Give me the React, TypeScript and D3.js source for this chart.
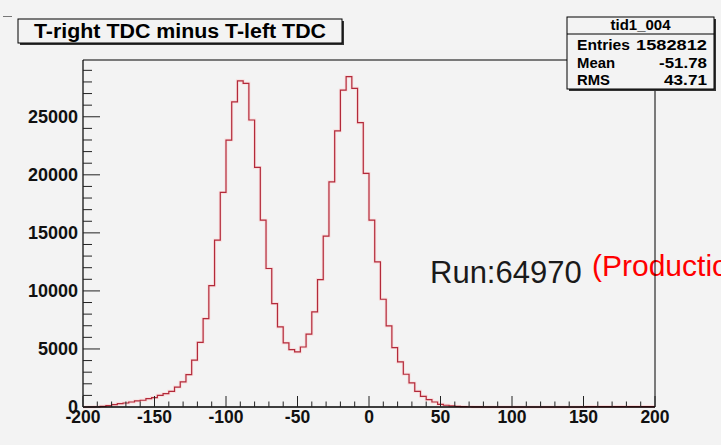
import React from "react";
import * as d3 from "d3";

const binLow = -200;
const binWidth = 4;
const counts: number[] = [
  0, 10, 20, 60, 120, 200, 290, 345, 430, 520,
  580, 720, 810, 1010, 1150, 1350, 1720, 2160, 2790, 4030,
  5560, 7620, 10450, 14370, 18480, 22990, 26290, 28100, 27880, 24720,
  20640, 16090, 11930, 8910, 6900, 5520, 4950, 4740, 5170, 6270,
  8190, 10980, 14720, 19400, 23790, 27300, 28450, 27450, 24490, 20120,
  16090, 12500, 9280, 6980, 5120, 3880, 2820, 2070, 1350, 920,
  640, 430, 230, 150, 90, 50, 30, 20, 10, 10,
  0, 0, 0, 0, 0, 0, 0, 0, 0, 0,
  0, 0, 0, 0, 0, 0, 0, 10, 30, 40,
  40, 40, 40, 40, 40, 40, 40, 40, 40, 40,
];
const xTickValues = [-200, -150, -100, -50, 0, 50, 100, 150, 200];
const yTickValues = [0, 5000, 10000, 15000, 20000, 25000];
const titleText = "T-right TDC minus T-left TDC";
const statsName = "tid1_004";
const statsLabels = ["Entries", "Mean", "RMS"];
const statsValues = ["1582812", "-51.78", "43.71"];
const runText = "Run:64970";
const runTag = "(Production)";

const W = 721;
const H = 445;
const L = 83, R = 655, T = 60, B = 407;
const BG = "#f3f3f3";

export default function App() {
  const x = d3.scaleLinear().domain([-200, 200]).range([L, R]);
  const y = d3.scaleLinear().domain([0, 29890]).range([B, T]);

  const pts: [number, number][] = counts.map((c, i) => [binLow + i * binWidth, c]);
  pts.push([binLow + counts.length * binWidth, counts[counts.length - 1]]);
  const line = d3
    .line<[number, number]>()
    .x((d) => x(d[0]))
    .y((d) => y(d[1]))
    .curve(d3.curveStepAfter);
  const histPath = line(pts) || "";

  const xMinor = d3.range(-200, 201, 10);
  const yMinor = d3.range(0, 29001, 1000);
  const font = "'Liberation Sans', Arial, Helvetica, sans-serif";
  const rowY = [49.5, 67.5, 84.5];
  const labLen = [53, 38, 33];
  const valLen = [71, 48, 43];

  return (
    <div style={{ position: "fixed", left: 0, top: 0 }}>
      <svg width={W} height={H} style={{ display: "block" }}>
        <rect x={0} y={0} width={W} height={H} fill={BG} />
        <line x1={3} x2={12} y1={16.5} y2={16.5} stroke="#777" strokeWidth={1} />
        {/* run text */}
        <text x={430} y={283} fontFamily={font} fontSize={31} fill="#1a1a1a">
          {runText}
        </text>
        <text x={592} y={276} fontFamily={font} fontSize={30} fill="#ff0000">
          {runTag}
        </text>
        {/* histogram */}
        <path d={histPath} fill="none" stroke="#ffc8c8" strokeWidth={3} opacity={0.5} />
        <path d={histPath} fill="none" stroke="#b22a3a" strokeWidth={1.2} />
        {/* frame */}
        <line x1={L} x2={R} y1={T} y2={T} stroke="#000" strokeWidth={1} />
        <line x1={R} x2={R} y1={T} y2={B} stroke="#000" strokeWidth={1} />
        <line x1={L} x2={L} y1={T} y2={B} stroke="#000" strokeWidth={1.2} />
        <line x1={L} x2={R} y1={B} y2={B} stroke="#000" strokeWidth={1.5} />
        {/* y ticks */}
        {yMinor.map((v) => {
          const major = v % 5000 === 0;
          return (
            <line key={"ym" + v} x1={L} x2={L + (major ? 17 : 9)} y1={y(v)} y2={y(v)} stroke="#222" strokeWidth={1} />
          );
        })}
        {yTickValues.map((v) => (
          <text key={"yl" + v} x={78} y={y(v) + 6} textAnchor="end" fontFamily={font} fontWeight="bold" fontSize={18} fill="#111">
            {String(v)}
          </text>
        ))}
        {/* x ticks */}
        {xMinor.map((v) => {
          const major = v % 50 === 0;
          return (
            <line key={"xm" + v} x1={x(v)} x2={x(v)} y1={B} y2={B - (major ? 11 : 5.5)} stroke="#222" strokeWidth={1} />
          );
        })}
        {xTickValues.map((v) => (
          <text key={"xl" + v} x={x(v)} y={423} textAnchor="middle" fontFamily={font} fontWeight="bold" fontSize={17.5} fill="#111">
            {String(v)}
          </text>
        ))}
        {/* title box */}
        <rect x={20} y={21} width={324} height={24} fill="#333" />
        <rect x={18} y={19} width={324} height={24} fill={BG} stroke="#000" strokeWidth={1} />
        <text x={180} y={37.5} textAnchor="middle" fontFamily={font} fontWeight="bold" fontSize={20} fill="#000" textLength={292} lengthAdjust="spacingAndGlyphs">
          {titleText}
        </text>
        {/* stats box */}
        <rect x={569} y={19} width={147} height={72} fill="#333" />
        <rect x={567} y={17} width={147} height={72} fill={BG} stroke="#000" strokeWidth={1} />
        <line x1={567} x2={714} y1={34} y2={34} stroke="#000" strokeWidth={1} />
        <text x={640.5} y={30} textAnchor="middle" fontFamily={font} fontWeight="bold" fontSize={15} fill="#000" textLength={60} lengthAdjust="spacingAndGlyphs">
          {statsName}
        </text>
        {statsLabels.map((lab, i) => (
          <text key={"sl" + i} x={577} y={rowY[i]} fontFamily={font} fontWeight="bold" fontSize={15} fill="#000" textLength={labLen[i]} lengthAdjust="spacingAndGlyphs">
            {lab}
          </text>
        ))}
        {statsValues.map((val, i) => (
          <text key={"sv" + i} x={707} y={rowY[i]} textAnchor="end" fontFamily={font} fontWeight="bold" fontSize={15} fill="#000" textLength={valLen[i]} lengthAdjust="spacingAndGlyphs">
            {val}
          </text>
        ))}
      </svg>
    </div>
  );
}
